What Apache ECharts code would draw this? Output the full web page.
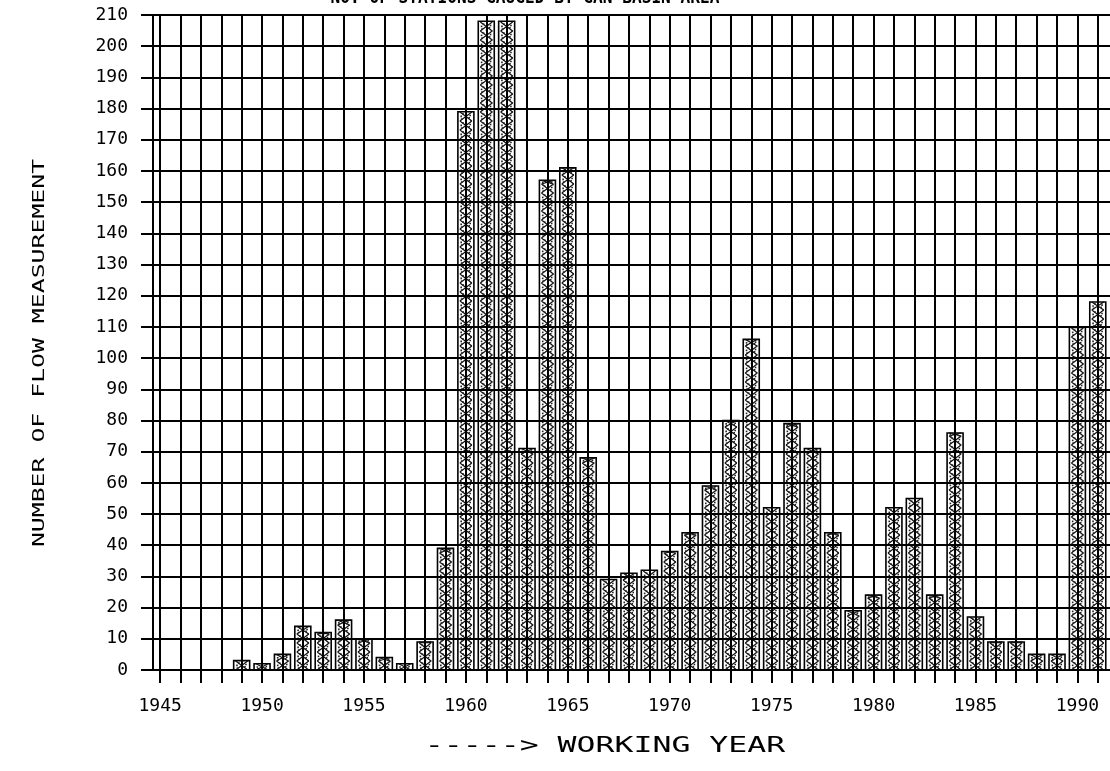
<!DOCTYPE html>
<html>
<head>
<meta charset="utf-8">
<script src="https://cdn.jsdelivr.net/npm/echarts@6/dist/echarts.min.js"></script>
<style>
  html, body { margin: 0; padding: 0; background: #fff; }
  #chart { width: 1110px; height: 771px; }
</style>
</head>
<body>
<div id="chart"></div>
<script>
// Working years and number of flow measurements in each year
const years = [1945, 1946, 1947, 1948, 1949, 1950, 1951, 1952, 1953, 1954,
               1955, 1956, 1957, 1958, 1959, 1960, 1961, 1962, 1963, 1964,
               1965, 1966, 1967, 1968, 1969, 1970, 1971, 1972, 1973, 1974,
               1975, 1976, 1977, 1978, 1979, 1980, 1981, 1982, 1983, 1984,
               1985, 1986, 1987, 1988, 1989, 1990, 1991];
const counts = [0, 0, 0, 0, 3, 2, 5, 14, 12, 16,
                10, 4, 2, 9, 39, 179, 208, 208, 71, 157,
                161, 68, 29, 31, 32, 38, 44, 59, 80, 106,
                52, 79, 71, 44, 19, 24, 52, 55, 24, 76,
                17, 9, 9, 5, 5, 110, 118];
const yearLabels = [1945, 1950, 1955, 1960, 1965, 1970, 1975, 1980, 1985, 1990];

const titleText = 'NO. OF STATIONS GAUGED BY GAN BASIN AREA';
const xTitle = '-----> WORKING YEAR';
const yTitle = 'NUMBER OF FLOW MEASUREMENT';

const FONT = '"DejaVu Sans Mono", "Liberation Mono", monospace';
const BAR_W = 16;
const HATCH = 9;

// Each bar: white box with a crossed hatch and stipple, like a pen-plotter fill
function renderBar(params, api) {
  const v = api.value(1);
  if (!v) return null;
  const yr = api.value(0);
  const base = api.coord([yr, 0]);
  const top = api.coord([yr, v]);
  const x0 = base[0] - BAR_W / 2;
  const x1 = base[0] + BAR_W / 2;
  let hatch = '';
  const dots = [];
  for (let y = base[1]; y > top[1] + 1; y -= HATCH) {
    const yt = Math.max(y - HATCH, top[1]);
    hatch += 'M' + (x0 + 2) + ' ' + y + 'L' + (x1 - 2) + ' ' + yt +
             'M' + (x1 - 2) + ' ' + y + 'L' + (x0 + 2) + ' ' + yt;
    const hh = y - yt;
    [[3, 0.3], [BAR_W - 4.5, 0.7], [BAR_W / 2 - 0.5, 0.15], [4.5, 0.85],
     [BAR_W - 5.5, 0.45], [2.5, 0.6], [BAR_W - 3.5, 0.1]]
      .forEach(function (d) {
        const dy = y - hh * d[1];
        if (dy > top[1] + 1) dots.push([x0 + d[0], dy]);
      });
  }
  const children = [
    {
      type: 'rect',
      shape: { x: x0, y: top[1], width: BAR_W, height: base[1] - top[1] },
      style: { fill: '#fff', stroke: '#000', lineWidth: 1.6 }
    },
    {
      type: 'path',
      shape: { pathData: hatch },
      style: { fill: null, stroke: '#111', lineWidth: 1.2 }
    }
  ];
  dots.forEach(function (p) {
    children.push({
      type: 'rect',
      shape: { x: p[0], y: p[1], width: 1.6, height: 1.6 },
      style: { fill: '#222' }
    });
  });
  return { type: 'group', children: children };
}

const chart = echarts.init(document.getElementById('chart'), null, { renderer: 'canvas' });

chart.setOption({
  backgroundColor: '#fff',
  animation: false,
  grid: { left: 153, right: 0, top: 15, bottom: 101, containLabel: false },
  xAxis: {
    type: 'value',
    min: 1944.65,
    max: 1991.6,
    z: 5,
    axisLine: { show: true, lineStyle: { color: '#000', width: 2 } },
    axisTick: {
      show: true, length: 13, inside: false,
      customValues: years,
      lineStyle: { color: '#000', width: 2 }
    },
    axisLabel: {
      customValues: yearLabels,
      formatter: function (v) { return String(v); },
      color: '#000', fontFamily: FONT, fontSize: 18, margin: 27
    },
    splitLine: { show: true, lineStyle: { color: '#000', width: 2 } }
  },
  yAxis: {
    type: 'value',
    min: 0,
    max: 210,
    interval: 10,
    z: 5,
    axisLine: { show: true, lineStyle: { color: '#000', width: 2 } },
    axisTick: { show: true, length: 12, lineStyle: { color: '#000', width: 2 } },
    axisLabel: { color: '#000', fontFamily: FONT, fontSize: 18, margin: 25 },
    splitLine: { show: true, lineStyle: { color: '#000', width: 2 } }
  },
  graphic: [
    {
      type: 'text', x: 525, y: -1, scaleX: 0.95,
      style: { text: titleText, font: 'bold 17px ' + FONT, fill: '#000',
               textAlign: 'center', textVerticalAlign: 'middle' }
    },
    {
      type: 'text', x: 605, y: 747, scaleX: 1.5,
      style: { text: xTitle, font: '21px ' + FONT, fill: '#000',
               textAlign: 'center', textVerticalAlign: 'middle' }
    },
    {
      type: 'text', x: 40, y: 353, rotation: Math.PI / 2, scaleX: 1.55,
      style: { text: yTitle, font: '16px ' + FONT, fill: '#000',
               textAlign: 'center', textVerticalAlign: 'middle' }
    }
  ],
  series: [
    {
      type: 'custom',
      z: 2,
      clip: true,
      renderItem: renderBar,
      encode: { x: 0, y: 1 },
      data: years.map(function (y, i) { return [y, counts[i]]; })
    }
  ]
});
</script>
</body>
</html>
